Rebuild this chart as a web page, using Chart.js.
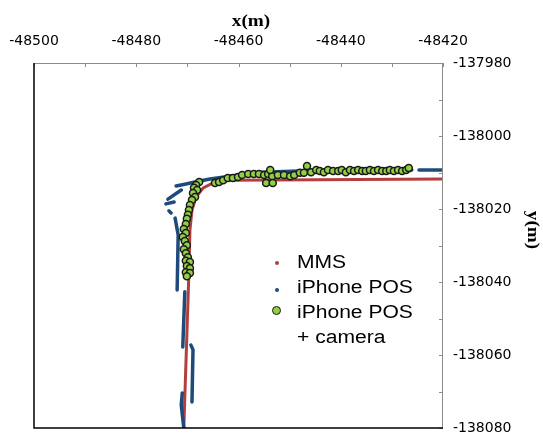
<!DOCTYPE html>
<html>
<head>
<meta charset="utf-8">
<script src="https://cdn.jsdelivr.net/npm/chart.js@4.4.0/dist/chart.umd.min.js"></script>
<style>
  html, body { margin: 0; padding: 0; background: #fff; }
  #wrap { position: relative; width: 543px; height: 435px; overflow: hidden; }
  #legend { position: absolute; left: 0; top: 0; font-family: "Liberation Sans", Arial, sans-serif; font-size: 18px; color: #000; }
  .row { position: absolute; left: 297px; height: 25px; line-height: 25px; white-space: nowrap; transform: scaleX(1.17); transform-origin: left center; }
  .mk { position: absolute; border-radius: 50%; }
</style>
</head>
<body>
<div id="wrap">
  <canvas id="chart" width="543" height="435"></canvas>
  <div id="legend"></div>
</div>
<script>
// axis ranges and labelled ticks
const xLabelValues = [-48500, -48480, -48460, -48440, -48420];
const yLabelValues = [-137980, -138000, -138020, -138040, -138060, -138080];

// MMS reference trajectory
const mmsX = [-48470.7, -48469.7, -48469.5, -48469.1, -48468.3, -48466.9, -48464.6, -48461.7, -48420];
const mmsY = [-138080, -138037.5, -138025.8, -138020.3, -138016.7, -138014.2, -138012.6, -138012.1, -138011.8];

// iPhone POS (null = gap between recorded segments)
const posX = [-48472.2, -48470.5, -48468.5, -48465.6, -48461.7, -48455.8, -48448.0, -48426.1, null,
  -48424.7, -48420, null,
  -48473.8, -48471.2, null,
  -48474.2, -48472.6, null,
  -48473.6, -48473.2, null,
  -48472.4, -48471.8, -48472.0, null,
  -48470.5, -48470.9, null,
  -48469.3, -48468.9, -48469.1, null,
  -48471.0, -48471.2, -48470.7];
const posY = [-138013.7, -138013.2, -138012.6, -138011.8, -138011.0, -138009.9, -138009.6, -138009.3, null,
  -138009.3, -138009.3, null,
  -138017.3, -138014.8, null,
  -138018.6, -138018.1, null,
  -138020.5, -138021.1, null,
  -138022.5, -138027.1, -138042.2, null,
  -138042.7, -138057.8, null,
  -138057.3, -138058.6, -138072.9, null,
  -138070.4, -138073.7, -138080];

// iPhone POS + camera
const camX = [-48467.7, -48468.3, -48468.7, -48468.1, -48468.9, -48468.5, -48469.1, -48469.5, -48469.7, -48469.9,
  -48470.1, -48470.3, -48470.7, -48470.3, -48470.9, -48470.5, -48470.1, -48470.7, -48470.3, -48469.9,
  -48470.3, -48469.5, -48470.1, -48469.5, -48470.3, -48469.5, -48470.1,
  -48464.6, -48463.8, -48463.0, -48462.1, -48461.1, -48460.1, -48459.3, -48458.1, -48457.0, -48456.0,
  -48455.0, -48454.2, -48453.4, -48453.8, -48454.6, -48453.3, -48452.3, -48451.1, -48449.9, -48449.1,
  -48448.0, -48447.2, -48446.6, -48445.8, -48444.8, -48444.1, -48443.3, -48442.5, -48441.5, -48440.5,
  -48439.8, -48439.0, -48438.2, -48437.4, -48436.6, -48435.8, -48435.1, -48434.3, -48433.5, -48432.7,
  -48431.9, -48431.1, -48430.4, -48429.6, -48428.8, -48428.0, -48427.2, -48426.7];
const camY = [-138012.6, -138013.4, -138014.2, -138014.8, -138015.6, -138016.7, -138017.5, -138018.9, -138020.3, -138021.6,
  -138022.7, -138024.1, -138025.5, -138026.6, -138027.7, -138028.8, -138029.9, -138031.0, -138032.1, -138033.2,
  -138034.2, -138034.5, -138035.6, -138036.2, -138037.3, -138037.5, -138038.4,
  -138012.9, -138012.6, -138012.1, -138011.5, -138011.5, -138011.2, -138010.7, -138010.4, -138010.4, -138010.4,
  -138010.7, -138010.4, -138011.0, -138009.3, -138012.9, -138012.9, -138010.7, -138010.7, -138011.0, -138010.7,
  -138010.1, -138010.1, -138008.2, -138009.9, -138009.3, -138009.6, -138009.9, -138009.3, -138009.6, -138009.6,
  -138009.3, -138009.9, -138009.3, -138009.6, -138009.3, -138009.6, -138009.6, -138009.3, -138009.6, -138009.3,
  -138009.6, -138009.6, -138009.3, -138009.6, -138009.3, -138009.6, -138009.3, -138008.8];

const RED = '#b33f3d', BLUE = '#1f4b7a', GREEN = '#93cf45';

const pts = (xs, ys) => xs.map((x, i) => ({ x: x, y: ys[i] }));

// inward ticks, black left/bottom edges, axis titles
const framePlugin = {
  id: 'frame',
  afterDraw(chart) {
    const { ctx, chartArea: a, scales: { x, y } } = chart;
    ctx.save();
    ctx.strokeStyle = '#8c8c8c';
    ctx.lineWidth = 1;
    ctx.beginPath();
    ctx.moveTo(a.left, a.top + 0.5); ctx.lineTo(a.right, a.top + 0.5);
    ctx.moveTo(a.right - 0.5, a.top); ctx.lineTo(a.right - 0.5, a.bottom);
    x.ticks.forEach(t => {
      const px = Math.round(x.getPixelForValue(t.value)) + 0.5;
      ctx.moveTo(px, a.top); ctx.lineTo(px, a.top + 4);
    });
    y.ticks.forEach(t => {
      const py = Math.round(y.getPixelForValue(t.value)) + 0.5;
      ctx.moveTo(a.right, py); ctx.lineTo(a.right - 4, py);
    });
    ctx.stroke();

    ctx.strokeStyle = '#000';
    ctx.lineWidth = 1.5;
    ctx.beginPath();
    ctx.moveTo(a.left, a.top); ctx.lineTo(a.left, a.bottom); ctx.lineTo(a.right, a.bottom);
    ctx.stroke();

    ctx.fillStyle = '#000';
    ctx.font = 'bold 16px "Liberation Serif", serif';
    ctx.textAlign = 'center';
    ctx.textBaseline = 'middle';
    ctx.save(); ctx.translate(251, 22); ctx.scale(1.2, 1); ctx.fillText('x(m)', 0, 0); ctx.restore();
    ctx.save(); ctx.translate(532, 230); ctx.rotate(Math.PI / 2); ctx.scale(1.2, 1); ctx.fillText('y(m)', 0, 0); ctx.restore();
    ctx.restore();
  }
};

const chart = new Chart(document.getElementById('chart'), {
  type: 'scatter',
  data: {
    datasets: [
      { label: 'MMS', data: pts(mmsX, mmsY), showLine: true, borderColor: RED, backgroundColor: RED,
        borderWidth: 3, pointRadius: 0, order: 3 },
      { label: 'iPhone POS', data: pts(posX, posY), showLine: true, spanGaps: false, borderColor: BLUE, backgroundColor: BLUE,
        borderWidth: 3.5, borderCapStyle: 'round', pointRadius: 0, order: 2 },
      { label: 'iPhone POS|+ camera', data: pts(camX, camY), showLine: false, backgroundColor: GREEN, borderColor: '#1a1a1a',
        borderWidth: 1.5, pointRadius: 3.5, order: 1 }
    ]
  },
  options: {
    responsive: false,
    animation: false,
    devicePixelRatio: 1,
    layout: { padding: { left: 34, right: 0, top: 0, bottom: 7 } },
    plugins: { legend: { display: false }, tooltip: { enabled: false } },
    scales: {
      x: {
        type: 'linear', position: 'top', min: -48500, max: -48420,
        afterFit(s) { s.height = 63; s.paddingLeft = 0; s.paddingRight = 0; },
        grid: { display: false, drawTicks: false },
        border: { display: false },
        ticks: {
          stepSize: 10, autoSkip: false, maxRotation: 0, padding: 13, color: '#000',
          font: { family: '"DejaVu Sans", sans-serif', size: 14 },
          callback: v => xLabelValues.includes(v) ? String(v) : ''
        }
      },
      y: {
        type: 'linear', position: 'right', min: -138080, max: -137980,
        afterFit(s) { s.width = 100; s.paddingTop = 0; s.paddingBottom = 0; },
        grid: { display: false, drawTicks: false },
        border: { display: false },
        ticks: {
          stepSize: 10, autoSkip: false, padding: 10, color: '#000',
          font: { family: '"DejaVu Sans", sans-serif', size: 14 },
          callback: v => yLabelValues.includes(v) ? String(v) : ''
        }
      }
    }
  },
  plugins: [framePlugin]
});

// legend inside the plot, built from the datasets
const legend = document.getElementById('legend');
const rows = [
  { ds: 0, top: 250, mk: { cx: 277, cy: 263, r: 2, fill: RED } },
  { ds: 1, top: 275, mk: { cx: 277, cy: 290, r: 2, fill: BLUE } },
  { ds: 2, top: 300, mk: { cx: 277, cy: 311, r: 3.5, fill: GREEN, stroke: '#1a1a1a' } }
];
rows.forEach(r => {
  const lines = chart.data.datasets[r.ds].label.split('|');
  lines.forEach((t, i) => {
    const d = document.createElement('div');
    d.className = 'row';
    d.style.top = (r.top + i * 25) + 'px';
    d.textContent = t;
    legend.appendChild(d);
  });
  const m = document.createElement('div');
  m.className = 'mk';
  const bw = r.mk.stroke ? 1.5 : 0;
  const size = r.mk.r * 2;
  m.style.width = size + 'px';
  m.style.height = size + 'px';
  m.style.left = (r.mk.cx - r.mk.r - bw) + 'px';
  m.style.top = (r.mk.cy - r.mk.r - bw) + 'px';
  m.style.background = r.mk.fill;
  if (r.mk.stroke) m.style.border = bw + 'px solid ' + r.mk.stroke;
  legend.appendChild(m);
});
</script>
</body>
</html>
